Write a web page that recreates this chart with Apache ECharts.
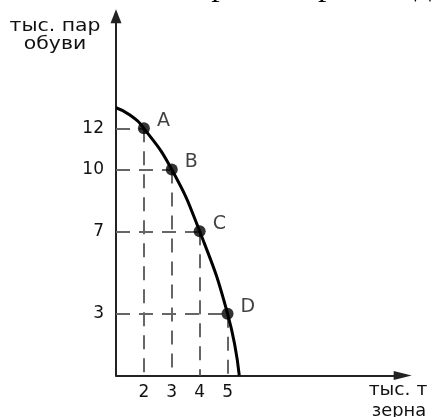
<!DOCTYPE html>
<html><head><meta charset="utf-8">
<script src="https://cdn.jsdelivr.net/npm/echarts@6/dist/echarts.min.js"></script>
<style>html,body{margin:0;padding:0;background:#fff;overflow:hidden}#c{width:432px;height:417px}</style>
</head><body><div id="c"></div>
<script>
const curveX = [1, 1.5, 2, 3, 4, 5, 5.42];
const curveY = [13.0, 12.65, 12, 10, 7, 3, 0];
const pointNames = ['A', 'B', 'C', 'D'];
const pointX = [2, 3, 4, 5];
const pointY = [12, 10, 7, 3];
const xTicks = [2, 3, 4, 5];
const yTicks = [3, 7, 10, 12];
const yTitle = ['тыс. пар', 'обуви'];
const xTitle = ['тыс. т', 'зерна'];
const caption = 'рисунке показана кривая производственных возможностей';

const chart = echarts.init(document.getElementById('c'), null, {renderer: 'canvas'});
const FONT = 'DejaVu Sans';
const guides = [];
pointX.forEach((x, i) => {
  guides.push([{coord: [1, pointY[i]]}, {coord: [x, pointY[i]]}]);
  guides.push([{coord: [x, pointY[i]]}, {coord: [x, 0]}]);
});

chart.setOption({
  animation: false,
  backgroundColor: '#fff',
  grid: {left: 116, top: 16.3, width: 286.7, height: 359.2},
  xAxis: {
    type: 'value', min: 1, max: 11.28,
    axisLine: {show: true, onZero: false, symbol: ['none', 'triangle'], symbolSize: [9, 18],
      lineStyle: {color: '#222', width: 2}},
    axisTick: {show: false}, splitLine: {show: false},
    axisLabel: {customValues: xTicks, fontSize: 17, color: '#111', margin: 9, fontFamily: FONT}
  },
  yAxis: {
    type: 'value', min: 0, max: 17.44,
    axisLine: {show: true, onZero: false, symbol: ['none', 'triangle'], symbolSize: [11, 14],
      lineStyle: {color: '#222', width: 2}},
    axisTick: {show: false}, splitLine: {show: false},
    axisLabel: {customValues: yTicks, fontSize: 17, color: '#111', margin: 12, fontFamily: FONT}
  },
  graphic: [
    {type: 'text', x: -63, y: 3, scaleX: 1.2, style: {text: caption, font: '28px "Liberation Serif"', fill: '#000', align: 'left', verticalAlign: 'bottom'}},
    {type: 'text', x: 55, y: 27, scaleX: 1.2, style: {text: yTitle[0], font: '17px "DejaVu Sans"', fill: '#111', align: 'center', verticalAlign: 'middle'}},
    {type: 'text', x: 55, y: 45, scaleX: 1.2, style: {text: yTitle[1], font: '17px "DejaVu Sans"', fill: '#111', align: 'center', verticalAlign: 'middle'}},
    {type: 'text', x: 398, y: 391, scaleX: 1.1, style: {text: xTitle[0], font: '17px "DejaVu Sans"', fill: '#111', align: 'center', verticalAlign: 'middle'}},
    {type: 'text', x: 399, y: 412, scaleX: 1.05, style: {text: xTitle[1], font: '17px "DejaVu Sans"', fill: '#111', align: 'center', verticalAlign: 'middle'}}
  ],
  series: [
    {
      type: 'line', data: [], z: 1,
      markLine: {
        silent: true, z: 1, symbol: ['none', 'none'], animation: false,
        label: {show: false},
        lineStyle: {type: [14, 9], color: '#666', width: 2},
        emphasis: {disabled: true},
        data: guides
      }
    },
    {
      type: 'line', z: 3, smooth: 0.5, showSymbol: false, silent: true,
      lineStyle: {color: '#000', width: 3},
      data: curveX.map((x, i) => [x, curveY[i]])
    },
    {
      type: 'scatter', z: 4, symbolSize: 12, itemStyle: {color: '#000'},
      label: {show: true, formatter: '{b}', position: 'right', distance: 7, offset: [0, -7],
        fontSize: 19, color: '#111', fontFamily: FONT},
      data: pointX.map((x, i) => ({name: pointNames[i], value: [x, pointY[i]]}))
    }
  ]
});
</script></body></html>
